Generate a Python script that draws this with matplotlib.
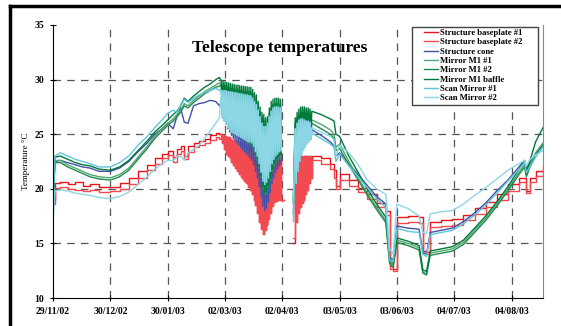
import numpy as np
import matplotlib
matplotlib.use("Agg")
import matplotlib.pyplot as plt
from matplotlib.lines import Line2D
from matplotlib.patches import Rectangle

plt.rcParams['font.family'] = ['Liberation Serif', 'DejaVu Serif']

# day offsets from 29/11/02
tick_days = [0, 31, 62, 93, 124, 155, 186, 217, 248]
tick_labels = ['29/11/02', '30/12/02', '30/01/03', '02/03/03', '02/04/03',
               '03/05/03', '03/06/03', '04/07/03', '04/08/03']

names = ['Structure baseplate #1', 'Structure baseplate #2', 'Structure cone',
         'Mirror M1 #1', 'Mirror M1 #2', 'Mirror M1 baffle',
         'Scan Mirror #1', 'Scan Mirror #2']
colors = ['#e8141c', '#f24a50', '#4352a8', '#4fa872', '#23894f', '#007a3a',
          '#5ec6d8', '#8dd6e6']

# ---- Dec -> end of Feb (smooth part)
days_a = [0, 1, 4, 8, 12, 16, 20, 25, 31, 36, 41, 46, 51, 55, 59, 62, 65, 67,
          69, 71, 73, 76, 79, 82, 85, 88, 90]
base1_a = [19.0, 20.5, 20.6, 20.4, 20.6, 20.3, 20.4, 20.2, 20.2, 20.5, 21.0, 21.6, 22.2, 22.8,
           23.2, 23.5, 22.9, 23.6, 23.9, 23.0, 23.9, 24.2, 24.4, 24.6, 24.9, 25.1, 25.0]
base2_a = [18.6, 20.1, 20.2, 20.0, 19.9, 19.8, 19.9, 19.7, 19.8, 20.0, 20.4, 21.0, 21.7, 22.3,
           22.8, 23.1, 22.5, 23.2, 23.5, 22.7, 23.4, 23.8, 24.0, 24.2, 24.5, 24.7, 24.6]
cone_a = [18.0, 22.5, 22.6, 22.4, 22.2, 22.0, 21.9, 21.6, 21.6, 21.9, 22.5, 23.4, 24.2, 25.0,
          25.5, 26.0, 25.5, 26.6, 27.4, 26.1, 26.0, 27.6, 27.8, 27.9, 28.1, 28.0, 27.6]
m1a_a = [18.0, 22.6, 22.6, 22.2, 21.9, 21.6, 21.3, 21.1, 21.0, 21.3, 21.9, 22.9, 23.9, 24.8,
         25.5, 26.0, 26.4, 26.8, 27.2, 27.8, 27.6, 28.1, 28.5, 28.9, 29.2, 29.5, 29.7]
m1b_a = [17.8, 22.4, 22.4, 22.0, 21.7, 21.4, 21.1, 20.9, 20.8, 21.1, 21.7, 22.7, 23.7, 24.6,
         25.3, 25.8, 26.2, 26.6, 27.0, 27.6, 27.4, 27.9, 28.3, 28.7, 29.0, 29.3, 29.4]
baffle_a = [18.5, 22.9, 23.0, 22.7, 22.4, 22.2, 22.1, 21.8, 21.7, 22.0, 22.6, 23.5, 24.4, 25.2,
            25.8, 26.3, 26.8, 27.1, 27.6, 28.3, 28.0, 28.5, 28.9, 29.3, 29.6, 30.0, 30.2]
scan1_a = [17.2, 23.0, 23.3, 23.0, 22.7, 22.5, 22.3, 22.0, 22.0, 22.4, 23.0, 24.0, 24.8, 25.6,
           26.3, 26.9, 27.2, 27.0, 27.6, 28.2, 27.9, 28.3, 28.6, 28.8, 29.0, 29.2, 29.0]
scan2_a = [17.0, 19.8, 19.9, 19.8, 19.6, 19.5, 19.4, 19.2, 19.1, 19.3, 19.7, 20.4, 21.1, 21.8,
           22.3, 22.6, 22.6, 22.9, 23.0, 22.6, 23.3, 23.6, 24.0, 24.6, 25.3, 26.0, 26.5]

# ---- March: daily max / min (one pair per day from day 91)
osc_start, osc_step = 91, 1.0
baffle_hi = [29.9, 29.85, 29.8, 29.75, 29.7, 29.65, 29.6, 29.55, 29.5, 29.5, 29.45, 29.4, 29.4, 29.35, 29.35, 29.3, 29.3,
             29.1, 28.8, 28.6, 28.0, 27.5, 27.0, 26.8, 26.5, 26.6, 27.4, 28.0, 28.2, 28.3, 28.3, 28.3, 28.2]
baffle_lo = [27.8, 27.4, 27.0, 26.7, 26.4, 26.1, 25.9, 25.7, 25.5, 25.3, 25.2, 25.0, 24.8, 24.6, 24.4, 24.3, 24.1,
             23.8, 23.2, 22.8, 22.1, 21.2, 20.2, 19.7, 19.8, 20.3, 21.0, 21.8, 22.3, 22.6, 22.9, 23.1, 23.2]
m1_hi = [29.5, 29.45, 29.4, 29.35, 29.3, 29.25, 29.2, 29.15, 29.1, 29.1, 29.05, 29.0, 29.0, 28.95, 28.9, 28.9, 28.85,
         28.7, 28.4, 28.1, 27.6, 27.1, 26.6, 26.3, 26.0, 26.2, 26.9, 27.4, 27.7, 27.8, 27.8, 27.8, 27.7]
m1_lo = [27.6, 27.2, 26.8, 26.5, 26.2, 25.9, 25.7, 25.5, 25.3, 25.1, 25.0, 24.8, 24.6, 24.4, 24.2, 24.1, 23.9,
         23.6, 23.0, 22.6, 21.9, 21.0, 20.0, 19.5, 19.6, 20.1, 20.8, 21.6, 22.1, 22.4, 22.7, 22.9, 23.0]
cone_hi = [28.0, 28.0, 28.0, 28.1, 28.1, 28.1, 28.0, 28.0, 28.0, 27.9, 27.9, 27.9, 27.8, 27.8, 27.8, 27.7, 27.7,
           27.5, 27.2, 26.9, 26.5, 26.1, 25.6, 25.3, 25.0, 25.3, 25.9, 26.4, 26.6, 26.8, 26.8, 26.8, 26.7]
cone_lo = [26.8, 26.3, 25.9, 25.5, 25.2, 24.9, 24.6, 24.4, 24.2, 24.0, 23.8, 23.6, 23.4, 23.2, 23.0, 22.8, 22.6,
           22.2, 21.6, 21.0, 20.2, 19.3, 18.4, 18.0, 18.2, 18.8, 19.6, 20.5, 21.0, 21.5, 21.8, 22.1, 22.3]
scan_hi = [29.0, 29.0, 29.0, 28.95, 28.9, 28.9, 28.85, 28.8, 28.8, 28.75, 28.7, 28.7, 28.65, 28.6, 28.6, 28.55, 28.5,
           28.3, 28.0, 27.7, 27.2, 26.6, 26.0, 25.7, 25.7, 26.0, 26.6, 27.1, 27.4, 27.5, 27.5, 27.5, 27.4]
scan_lo = [26.5, 26.2, 25.9, 25.6, 25.4, 25.2, 25.1, 25.0, 24.9, 24.8, 24.7, 24.6, 24.5, 24.4, 24.3, 24.3, 24.2,
           23.9, 23.4, 23.0, 22.3, 21.5, 20.7, 20.4, 20.6, 21.0, 21.6, 22.3, 22.7, 23.0, 23.2, 23.4, 23.5]
base_hi = [25.0, 24.9, 24.8, 24.7, 24.7, 24.6, 24.5, 24.5, 24.4, 24.3, 24.3, 24.2, 24.1, 24.0, 23.8, 23.7, 23.5,
           23.3, 23.1, 22.8, 22.4, 21.8, 21.0, 20.6, 20.6, 20.9, 21.5, 22.1, 22.5, 22.6, 22.6, 22.6, 22.6]
base_lo = [24.2, 23.6, 23.2, 23.0, 22.8, 22.5, 22.2, 21.9, 21.6, 21.4, 21.1, 20.9, 20.7, 20.5, 20.2, 19.9, 19.5,
           19.0, 18.5, 17.8, 17.0, 16.3, 15.9, 16.2, 16.7, 17.2, 17.8, 18.4, 18.8, 18.9, 19.0, 19.0, 19.0]

# ---- restart after the data gap (early April)
restart_day = 130
restart = [15.0, 15.5, 17.7, 18.8, 18.6, 19.0, 17.0, 18.9]
osc2_start, osc2_step = 131, 1.0
baffle2_hi = [26.5, 27.0, 27.3, 27.5, 27.5, 27.5, 27.4, 27.4, 27.3]
baffle2_lo = [22.5, 23.8, 24.5, 24.8, 25.0, 25.2, 25.3, 25.5, 25.6]
m12_hi = [26.0, 26.5, 26.8, 27.0, 27.0, 27.0, 26.9, 26.9, 26.8]
m12_lo = [22.0, 23.3, 24.0, 24.4, 24.6, 24.8, 24.9, 25.1, 25.2]
cone2_hi = [24.5, 25.1, 25.5, 25.8, 25.8, 25.8, 25.7, 25.7, 25.6]
cone2_lo = [21.0, 22.2, 23.0, 23.5, 23.8, 24.1, 24.3, 24.5, 24.7]
scan2_hi = [25.5, 26.0, 26.3, 26.4, 26.4, 26.3, 26.2, 26.2, 26.1]
scan2_lo = [20.5, 21.6, 22.5, 23.1, 23.5, 23.8, 24.1, 24.3, 24.5]
base2_hi = [22.5, 22.8, 23.0, 23.0, 23.0, 23.0, 23.0, 23.0, 23.0]
base2_lo = [17.0, 17.8, 18.3, 18.7, 19.0, 19.5, 19.9, 20.5, 21.0]

# ---- April -> end
days_d = [140, 145, 150, 152, 153, 155, 160, 165, 170, 175, 180, 182, 184, 186, 192, 198,
          200, 202, 204, 210, 216, 222, 228, 234, 240, 246, 252, 255, 256, 258, 261, 265]
base1_d = [23.0, 22.8, 22.3, 21.7, 20.3, 21.4, 20.8, 20.1, 19.5, 18.7, 18.0, 12.9, 12.7, 17.4, 17.5, 17.4,
           14.3, 14.2, 17.0, 17.1, 17.2, 17.6, 18.2, 18.8, 19.5, 20.4, 21.0, 21.0, 19.8, 21.0, 21.6, 22.0]
base2_d = [22.6, 22.3, 21.8, 21.0, 20.0, 20.8, 20.3, 19.7, 19.1, 18.3, 17.6, 12.7, 12.5, 16.9, 17.0, 16.9,
           14.1, 14.0, 16.5, 16.6, 16.7, 17.1, 17.7, 18.3, 19.0, 19.8, 20.6, 20.6, 19.6, 20.6, 21.2, 21.6]
cone_d = [25.4, 24.9, 24.3, 23.9, 23.0, 23.3, 22.3, 21.3, 20.3, 19.3, 18.6, 13.7, 13.5, 16.6, 16.4, 16.3,
          14.2, 14.0, 16.0, 16.2, 16.4, 17.0, 17.8, 18.7, 19.8, 20.8, 22.0, 22.6, 21.8, 22.4, 23.2, 24.1]
m1a_d = [26.3, 25.9, 25.4, 25.0, 23.8, 24.1, 22.5, 21.0, 19.6, 18.3, 17.1, 13.4, 13.0, 15.3, 15.0, 14.6,
         12.4, 12.2, 14.1, 14.3, 14.5, 15.1, 16.2, 17.3, 18.6, 20.0, 21.5, 22.2, 21.3, 22.2, 23.3, 24.2]
m1b_d = [26.0, 25.5, 25.0, 24.6, 23.5, 23.7, 22.2, 20.8, 19.4, 18.1, 16.9, 13.2, 12.8, 15.1, 14.8, 14.4,
         12.3, 12.1, 13.9, 14.1, 14.3, 14.9, 16.0, 17.1, 18.4, 19.8, 21.3, 22.0, 21.1, 22.0, 23.1, 24.0]
baffle_d = [27.1, 26.8, 26.4, 26.2, 25.0, 24.8, 23.0, 21.5, 20.0, 18.6, 17.4, 13.6, 13.2, 15.5, 15.2, 14.8,
            12.6, 12.4, 14.3, 14.5, 14.7, 15.3, 16.4, 17.5, 18.8, 20.2, 21.8, 22.6, 21.6, 22.6, 24.3, 25.6]
scan1_d = [25.1, 24.6, 24.1, 23.8, 22.5, 23.2, 22.1, 21.1, 20.1, 19.1, 18.3, 13.5, 13.3, 16.4, 16.1, 16.0,
           14.0, 13.8, 15.8, 16.0, 16.2, 16.8, 17.6, 18.5, 19.6, 20.7, 21.8, 22.4, 21.5, 22.0, 22.9, 23.8]
scan2_d = [25.6, 25.2, 24.8, 24.5, 23.0, 24.0, 23.3, 22.2, 20.8, 20.0, 19.5, 14.5, 14.0, 18.6, 18.2, 17.5,
           16.0, 15.9, 17.7, 17.9, 18.0, 18.6, 19.4, 20.1, 20.9, 21.7, 22.3, 22.6, 22.1, 22.7, 23.1, 23.5]

parts = [
    (base1_a, base_hi, base_lo, base2_hi, base2_lo, base1_d),
    (base2_a, base_hi, base_lo, base2_hi, base2_lo, base2_d),
    (cone_a, cone_hi, cone_lo, cone2_hi, cone2_lo, cone_d),
    (m1a_a, m1_hi, m1_lo, m12_hi, m12_lo, m1a_d),
    (m1b_a, m1_hi, m1_lo, m12_hi, m12_lo, m1b_d),
    (baffle_a, baffle_hi, baffle_lo, baffle2_hi, baffle2_lo, baffle_d),
    (scan1_a, scan_hi, scan_lo, scan2_hi, scan2_lo, scan1_d),
    (scan2_a, scan_hi, scan_lo, scan2_hi, scan2_lo, scan2_d),
]


def build(a, hi, lo, hi2, lo2, dvals, r0):
    t, v = list(days_a), list(a)
    for k in range(len(hi)):
        t += [osc_start + osc_step * k, osc_start + osc_step * k + 0.5]
        v += [hi[k], lo[k]]
    t.append(125); v.append(np.nan)
    t.append(restart_day); v.append(r0)
    for k in range(len(hi2)):
        t += [osc2_start + osc2_step * k, osc2_start + osc2_step * k + 0.5]
        v += [hi2[k], lo2[k]]
    t += days_d
    v += dvals
    return t, v


fig = plt.figure(figsize=(5.61, 3.26), dpi=100)
ax = fig.add_axes([53 / 561, 1 - 298 / 326, 490 / 561, 273 / 326])

for i, (name, col, p) in enumerate(zip(names, colors, parts)):
    t, v = build(p[0], p[1], p[2], p[3], p[4], p[5], restart[i])
    ds = 'steps-post' if i < 2 else 'default'
    ax.plot(t, v, color=col, lw=1.0, label=name, drawstyle=ds)

ax.set_xlim(0, 265)
ax.set_ylim(10, 35)
ax.set_yticks([10, 15, 20, 25, 30, 35])
ax.set_xticks(tick_days)
ax.set_xticklabels(tick_labels)

for y in [15, 20, 25, 30]:
    ax.axhline(y, color='#555555', lw=0.9, ls=(0, (6, 5)), zorder=0)
for d in tick_days[1:]:
    ax.axvline(d, color='#555555', lw=0.9, ls=(0, (6, 5)), zorder=0)

ax.spines['top'].set_visible(False)
ax.spines['right'].set_color('#888888')
ax.spines['left'].set_linewidth(0.8)
ax.spines['bottom'].set_linewidth(0.8)
ax.tick_params(direction='inout', length=5, width=0.8, labelsize=7, pad=4)
for lab in ax.get_xticklabels() + ax.get_yticklabels():
    lab.set_fontweight('bold')

ax.set_ylabel('Temperature °C', fontsize=6.5, labelpad=3)

fig.text(280 / 561, 1 - 48 / 326, 'Telescope temperatures', ha='center', va='center',
         fontsize=12.5, fontweight='bold')

# legend box drawn separately so its size matches the original
ax.add_patch(Rectangle((412 / 561, 1 - 105 / 326), 126 / 561, 78 / 326,
                       transform=fig.transFigure, facecolor='white',
                       edgecolor='#444444', lw=1.0, zorder=4, clip_on=False))
leg = ax.legend(loc='upper left', bbox_to_anchor=(424 / 561, 1 - 29 / 326),
                bbox_transform=fig.transFigure, fontsize=6.2, frameon=False,
                handlelength=1.6, handletextpad=0.25, labelcolor='black',
                labelspacing=0.15, borderpad=0, borderaxespad=0)
leg.set_zorder(5)
for txt in leg.get_texts():
    txt.set_fontweight('bold')

# outer frame
fig.add_artist(Line2D([10 / 561, 10 / 561], [0, 1 - 6 / 326], color='black', lw=2.5,
                      transform=fig.transFigure))
fig.add_artist(Line2D([10 / 561, 1], [1 - 6 / 326, 1 - 6 / 326], color='black', lw=2.5,
                      transform=fig.transFigure))

fig.savefig('out.png', dpi=100)
